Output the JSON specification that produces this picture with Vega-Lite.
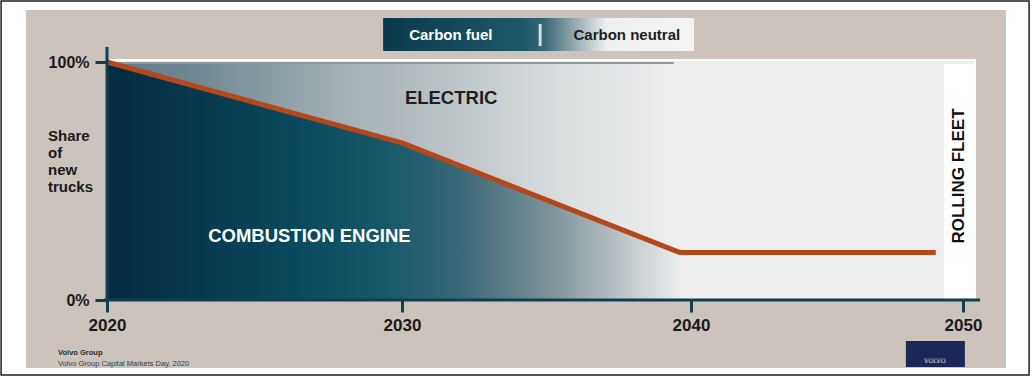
{
  "$schema": "https://vega.github.io/schema/vega-lite/v6.json",
  "autosize": "none",
  "padding": 0,
  "width": 1033,
  "height": 377,
  "background": "white",
  "config": {"view": {"stroke": null}, "font": "Liberation Sans"},
  "data": {"values": [{}]},
  "datasets": {
    "path": [
      {"year": 2020, "share": 100},
      {"year": 2030, "share": 66},
      {"year": 2039.6, "share": 20},
      {"year": 2049, "share": 20}
    ],
    "fossil": [
      {"year": 2020, "share": 100},
      {"year": 2030, "share": 66},
      {"year": 2039.6, "share": 20}
    ]
  },
  "layer": [
    {
      "mark": {"type": "rect", "fill": "white", "stroke": "#222222", "strokeWidth": 1.5},
      "encoding": {
        "x": {"datum": 2016.41, "type": "quantitative",
          "scale": {"domain": [2020, 2030, 2040, 2050], "range": [107, 402, 691, 963], "nice": false, "zero": false},
          "axis": {"values": [2020, 2030, 2040, 2050], "format": "d", "title": null, "domain": false, "grid": false, "offset": -77,
            "tickSize": 12, "tickWidth": 3, "tickColor": "#0e4050", "labelFont": "Liberation Sans", "labelFontWeight": "bold",
            "labelFontSize": 17, "labelColor": "#1a1a1a", "labelPadding": 5, "labelFlush": false, "labelOverlap": false, "zindex": 2}},
        "x2": {"datum": 2052.43},
        "y": {"datum": 125.63, "type": "quantitative",
          "scale": {"domain": [0, 100], "range": [300, 62], "nice": false, "zero": false},
          "axis": {"values": [0, 100], "labelExpr": "datum.value + '%'", "title": null, "domain": false, "grid": false, "offset": -107,
            "tickSize": 12, "tickWidth": 3, "tickColor": "#0e4050", "labelFont": "Liberation Sans", "labelFontWeight": "bold",
            "labelFontSize": 16, "labelColor": "#1a1a1a", "labelPadding": 6, "labelOverlap": false, "zindex": 2}},
        "y2": {"datum": -31.51}
      }
    },
    {
      "mark": {"type": "rect", "fill": "#ccc3bc"},
      "encoding": {
        "x": {"datum": 2017.25, "type": "quantitative"}, "x2": {"datum": 2051.58},
        "y": {"datum": 121.85, "type": "quantitative"}, "y2": {"datum": -28.57}
      }
    },
    {
      "mark": {"type": "rect", "fill": "#eeeeee", "stroke": "white", "strokeWidth": 2},
      "encoding": {
        "x": {"datum": 2020.1, "type": "quantitative"}, "x2": {"datum": 2050.44},
        "y": {"datum": 100.8, "type": "quantitative"}, "y2": {"datum": 0}
      }
    },
    {
      "mark": {"type": "rect", "opacity": 1, "fill": {"gradient": "linear", "x1": 0, "x2": 1, "y1": 0, "y2": 0,
        "stops": [
          {"offset": 0, "color": "#5f7d89"},
          {"offset": 0.16, "color": "#708994"},
          {"offset": 0.4, "color": "#a3afb4"},
          {"offset": 0.6, "color": "#bcc4c7"},
          {"offset": 0.8, "color": "#dadfe0"},
          {"offset": 1, "color": "#eeeeee"}]}},
      "encoding": {
        "x": {"datum": 2020.1, "type": "quantitative"}, "x2": {"datum": 2039.6},
        "y": {"datum": 99.6, "type": "quantitative"}, "y2": {"datum": 0}
      }
    },
    {
      "mark": {"type": "rule", "color": "#8f999c", "strokeWidth": 2},
      "encoding": {
        "x": {"datum": 2020.1, "type": "quantitative"}, "x2": {"datum": 2039.4},
        "y": {"datum": 99.6, "type": "quantitative"}
      }
    },
    {
      "data": {"name": "fossil"},
      "mark": {"type": "area", "opacity": 1, "fill": {"gradient": "linear", "x1": 0, "x2": 1, "y1": 0, "y2": 0,
        "stops": [
          {"offset": 0, "color": "#042a40"},
          {"offset": 0.34, "color": "#0a4a5e"},
          {"offset": 0.48, "color": "#155868"},
          {"offset": 0.62, "color": "#3b6877"},
          {"offset": 0.77, "color": "#7c9198"},
          {"offset": 0.8, "color": "#8a9ca3"},
          {"offset": 0.91, "color": "#c0c9cc"},
          {"offset": 1, "color": "#eceeef"}]}},
      "encoding": {
        "x": {"field": "year", "type": "quantitative"},
        "y": {"field": "share", "type": "quantitative"},
        "y2": {"datum": 0}
      }
    },
    {
      "data": {"name": "path"},
      "mark": {"type": "line", "color": "#b4481b", "strokeWidth": 5, "strokeCap": "butt", "strokeJoin": "round"},
      "encoding": {
        "x": {"field": "year", "type": "quantitative"},
        "y": {"field": "share", "type": "quantitative"}
      }
    },
    {
      "mark": {"type": "rect", "fill": "white"},
      "encoding": {
        "x": {"datum": 2049.3, "type": "quantitative"}, "x2": {"datum": 2050.44},
        "y": {"datum": 99.2, "type": "quantitative"}, "y2": {"datum": 0}
      }
    },
    {
      "mark": {"type": "rule", "color": "#0e4050", "strokeWidth": 3},
      "encoding": {
        "x": {"datum": 2019.9, "type": "quantitative"}, "x2": {"datum": 2050.63},
        "y": {"datum": 0, "type": "quantitative"}
      }
    },
    {
      "mark": {"type": "rule", "color": "#0e4050", "strokeWidth": 3},
      "encoding": {
        "x": {"datum": 2020, "type": "quantitative"},
        "y": {"datum": -1, "type": "quantitative"}, "y2": {"datum": 106.3}
      }
    },
    {
      "mark": {"type": "rect", "opacity": 1, "fill": {"gradient": "linear", "x1": 0, "x2": 1, "y1": 0, "y2": 0,
        "stops": [
          {"offset": 0, "color": "#0b3a4e"},
          {"offset": 0.45, "color": "#1c5868"},
          {"offset": 0.52, "color": "#3a6876"},
          {"offset": 0.62, "color": "#9aacb2"},
          {"offset": 0.72, "color": "#eef0f0"},
          {"offset": 1, "color": "#f3f3f3"}]}},
      "encoding": {
        "x": {"datum": 2029.36, "type": "quantitative"}, "x2": {"datum": 2040.11},
        "y": {"datum": 118.49, "type": "quantitative"}, "y2": {"datum": 104.6}
      }
    },
    {
      "mark": {"type": "rule", "color": "#d5dfe2", "strokeWidth": 3},
      "encoding": {
        "x": {"datum": 2034.78, "type": "quantitative"},
        "y": {"datum": 115.97, "type": "quantitative"}, "y2": {"datum": 106.7}
      }
    },
    {
      "mark": {"type": "text", "text": "Carbon fuel", "color": "white", "font": "Liberation Sans", "fontWeight": "bold", "fontSize": 15, "align": "center", "baseline": "middle"},
      "encoding": {"x": {"datum": 2031.69, "type": "quantitative"}, "y": {"datum": 111.3, "type": "quantitative"}}
    },
    {
      "mark": {"type": "text", "text": "Carbon neutral", "color": "#1e1e1e", "font": "Liberation Sans", "fontWeight": "bold", "fontSize": 15, "align": "center", "baseline": "middle"},
      "encoding": {"x": {"datum": 2037.78, "type": "quantitative"}, "y": {"datum": 111.3, "type": "quantitative"}}
    },
    {
      "mark": {"type": "text", "text": "ELECTRIC", "color": "#1e1e1e", "font": "Liberation Sans", "fontWeight": "bold", "fontSize": 18.5, "align": "center", "baseline": "middle"},
      "encoding": {"x": {"datum": 2031.7, "type": "quantitative"}, "y": {"datum": 84.9, "type": "quantitative"}}
    },
    {
      "mark": {"type": "text", "text": "COMBUSTION ENGINE", "color": "white", "font": "Liberation Sans", "fontWeight": "bold", "fontSize": 18.5, "align": "center", "baseline": "middle"},
      "encoding": {"x": {"datum": 2026.86, "type": "quantitative"}, "y": {"datum": 27.0, "type": "quantitative"}}
    },
    {
      "mark": {"type": "text", "text": "ROLLING  FLEET", "color": "#111111", "font": "Liberation Sans", "fontWeight": "bold", "fontSize": 17, "angle": 270, "align": "center", "baseline": "middle"},
      "encoding": {"x": {"datum": 2049.86, "type": "quantitative"}, "y": {"datum": 52.1, "type": "quantitative"}}
    },
    {
      "mark": {"type": "text", "text": ["Share", "of", "new", "trucks"], "color": "#1a1a1a", "font": "Liberation Sans", "fontWeight": "bold", "fontSize": 15, "lineHeight": 17, "align": "left", "baseline": "top"},
      "encoding": {"x": {"datum": 2018.0, "type": "quantitative"}, "y": {"datum": 72.0, "type": "quantitative"}}
    },
    {
      "mark": {"type": "text", "text": "Volvo Group", "color": "#2a2a2a", "font": "Liberation Sans", "fontWeight": "bold", "fontSize": 7.5, "align": "left", "baseline": "middle"},
      "encoding": {"x": {"datum": 2018.34, "type": "quantitative"}, "y": {"datum": -22.3, "type": "quantitative"}}
    },
    {
      "mark": {"type": "text", "text": "Volvo Group Capital Markets Day, 2020", "color": "#3a3a3a", "font": "Liberation Sans", "fontSize": 7.5, "align": "left", "baseline": "middle"},
      "encoding": {"x": {"datum": 2018.34, "type": "quantitative"}, "y": {"datum": -26.9, "type": "quantitative"}}
    },
    {
      "mark": {"type": "rect", "fill": "#1d2658"},
      "encoding": {
        "x": {"datum": 2047.9, "type": "quantitative"}, "x2": {"datum": 2050.07},
        "y": {"datum": -17.2, "type": "quantitative"}, "y2": {"datum": -28.15}
      }
    },
    {
      "mark": {"type": "text", "text": "VOLVO", "color": "#e8e8f0", "font": "DejaVu Serif", "fontSize": 6, "align": "center", "baseline": "middle"},
      "encoding": {"x": {"datum": 2048.97, "type": "quantitative"}, "y": {"datum": -25.6, "type": "quantitative"}}
    }
  ]
}
